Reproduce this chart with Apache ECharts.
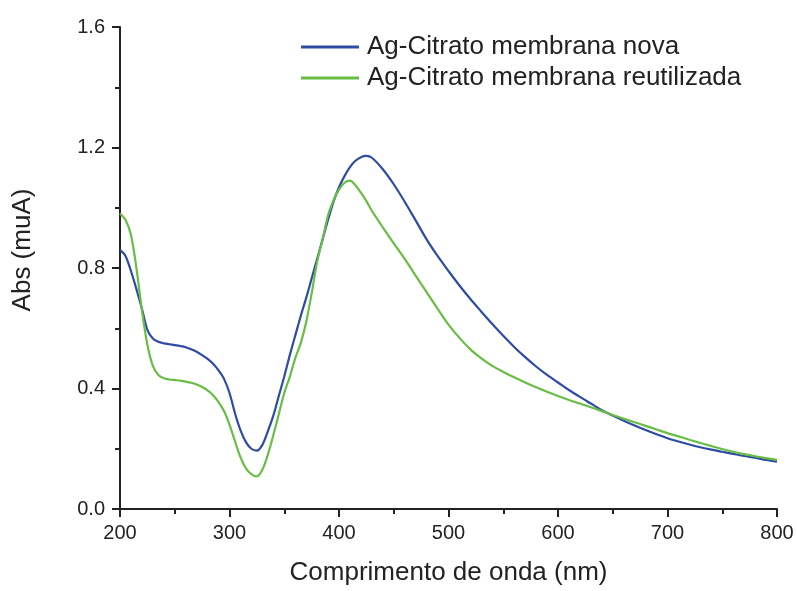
<!DOCTYPE html>
<html>
<head>
<meta charset="utf-8">
<script src="https://cdn.jsdelivr.net/npm/echarts@6/dist/echarts.min.js"></script>
<style>
  html, body { margin: 0; padding: 0; background: #fff; }
  #chart { width: 797px; height: 591px; }
</style>
</head>
<body>
<div id="chart"></div>
<script>
// Wavelength samples (nm): 5 nm steps up to 430, 10 nm steps after
const wavelength = [
  200,205,210,215,220,225,230,235,240,245,250,255,260,265,270,275,280,285,290,295,
  300,305,310,315,320,325,330,335,340,345,350,355,360,365,370,375,380,385,390,395,
  400,405,410,415,420,425,430,
  440,450,460,470,480,490,500,510,520,530,540,550,560,570,580,590,600,
  610,620,630,640,650,660,670,680,690,700,710,720,730,740,750,760,770,780,790,800
];

// Absorbance, new membrane
const absNova = [
  0.86,0.84,0.79,0.73,0.665,0.595,0.566,0.555,0.55,0.547,0.544,0.541,0.537,0.53,0.522,0.511,0.498,0.482,0.46,0.432,
  0.385,0.318,0.262,0.222,0.2,0.194,0.213,0.258,0.31,0.375,0.44,0.51,0.575,0.64,0.70,0.765,0.83,0.895,0.96,1.02,
  1.068,1.105,1.135,1.156,1.168,1.172,1.166,
  1.128,1.078,1.02,0.958,0.895,0.84,0.79,0.742,0.697,0.655,0.614,0.575,0.538,0.504,0.473,0.445,0.42,
  0.395,0.372,0.35,0.328,0.31,0.293,0.277,0.262,0.248,0.235,0.224,0.214,0.205,0.197,0.19,0.183,0.176,0.17,0.163,0.157
];

// Absorbance, reused membrane
const absReutilizada = [
  0.981,0.96,0.91,0.80,0.66,0.545,0.475,0.445,0.434,0.43,0.428,0.426,0.423,0.419,0.413,0.405,0.394,0.378,0.355,0.325,
  0.28,0.225,0.172,0.135,0.116,0.108,0.13,0.18,0.245,0.315,0.385,0.438,0.50,0.55,0.62,0.715,0.82,0.895,0.975,1.025,
  1.06,1.083,1.09,1.075,1.05,1.022,0.99,
  0.935,0.882,0.83,0.775,0.72,0.665,0.612,0.568,0.53,0.50,0.475,0.455,0.437,0.42,0.404,0.389,0.375,
  0.362,0.35,0.338,0.325,0.312,0.30,0.288,0.276,0.264,0.252,0.241,0.23,0.219,0.209,0.199,0.19,0.182,0.175,0.169,0.163
];

const seriesNames = ['Ag-Citrato membrana nova', 'Ag-Citrato membrana reutilizada'];
const seriesColors = ['#2E4BA6', '#68BE45'];

const pairs = (xs, ys) => xs.map((x, i) => [x, ys[i]]);

const chart = echarts.init(document.getElementById('chart'), null, { renderer: 'canvas' });
const font = 'Liberation Sans, Arial, sans-serif';
const ink = '#222';

const axisCommon = {
  axisLine: { show: true, onZero: false, lineStyle: { color: ink, width: 2 } },
  axisTick: { show: true, inside: false, length: 8, lineStyle: { color: ink, width: 2 } },
  minorTick: { show: true, splitNumber: 2, length: 5, lineStyle: { color: ink, width: 2 } },
  splitLine: { show: false },
  nameLocation: 'middle'
};

chart.setOption({
  animation: false,
  backgroundColor: '#fff',
  textStyle: { fontFamily: font },
  grid: { left: 120, right: 20, top: 27, bottom: 78 },
  legend: {
    orient: 'vertical',
    left: 301,
    top: 34,
    padding: 0,
    itemWidth: 58,
    itemHeight: 3,
    itemGap: 5,
    icon: 'rect',
    textStyle: { fontSize: 26, color: ink, fontFamily: font, padding: [0, 0, 0, 3] },
    data: seriesNames
  },
  xAxis: Object.assign({}, axisCommon, {
    type: 'value',
    min: 200, max: 800, interval: 100,
    name: 'Comprimento de onda (nm)',
    nameGap: 51,
    nameTextStyle: { fontSize: 26, color: ink, fontFamily: font },
    axisLabel: { fontSize: 20, color: ink, margin: 14, fontFamily: font }
  }),
  yAxis: Object.assign({}, axisCommon, {
    type: 'value',
    min: 0, max: 1.6, interval: 0.4,
    name: 'Abs (muA)',
    nameGap: 84,
    nameTextStyle: { fontSize: 26, color: ink, fontFamily: font, padding: [0, 0, 0, 36] },
    axisLabel: { fontSize: 20, color: ink, margin: 15, fontFamily: font, formatter: v => v.toFixed(1) }
  }),
  series: [absNova, absReutilizada].map((vals, i) => ({
    name: seriesNames[i],
    type: 'line',
    smooth: 0.3,
    showSymbol: false,
    data: pairs(wavelength, vals),
    lineStyle: { color: seriesColors[i], width: 2.2 },
    itemStyle: { color: seriesColors[i] }
  }))
});
</script>
</body>
</html>
